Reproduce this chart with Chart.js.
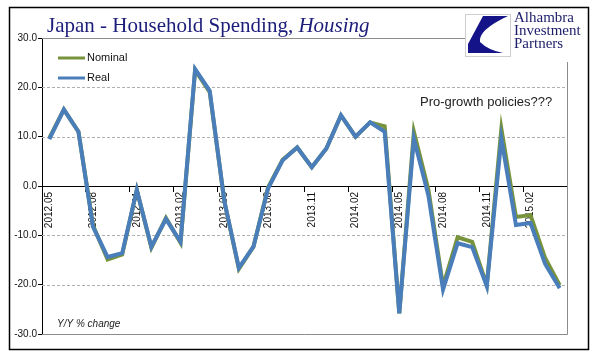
<!DOCTYPE html>
<html>
<head>
<meta charset="utf-8">
<script src="https://cdn.jsdelivr.net/npm/chart.js@4"></script>
<style>
  html, body { margin: 0; padding: 0; background: #fff; }
  canvas { display: block; }
</style>
</head>
<body>
<canvas id="spendChart" width="596" height="361"></canvas>
<script>
// months 2012.05 .. 2015.04
const months = [
  '2012.05', '2012.06', '2012.07', '2012.08', '2012.09', '2012.10', '2012.11', '2012.12',
  '2013.01', '2013.02', '2013.03', '2013.04', '2013.05', '2013.06', '2013.07', '2013.08',
  '2013.09', '2013.10', '2013.11', '2013.12', '2014.01', '2014.02', '2014.03', '2014.04',
  '2014.05', '2014.06', '2014.07', '2014.08', '2014.09', '2014.10', '2014.11', '2014.12',
  '2015.01', '2015.02', '2015.03', '2015.04'
];
const nominal = [
  9.7, 15.5, 11.0, -8.0, -14.9, -13.9, -0.8, -12.5, -6.5, -11.5, 23.5, 19.0,
  -3.0, -16.8, -12.3, -0.3, 5.3, 7.8, 3.8, 7.6, 14.3, 10.0, 12.9, 12.1,
  -25.8, 11.0, -0.8, -20.3, -10.4, -11.3, -20.1, 11.6, -6.3, -5.9, -14.6, -20.1
];
const real = [
  9.5, 15.5, 11.0, -8.3, -14.4, -13.6, -0.8, -12.3, -6.7, -11.3, 23.7, 19.3,
  -3.0, -16.6, -12.3, -0.5, 5.2, 7.8, 3.8, 7.6, 14.3, 10.0, 12.9, 11.0,
  -25.8, 9.6, -2.0, -21.0, -11.6, -12.4, -20.3, 9.6, -7.9, -7.5, -15.8, -20.7
];
const yTicks = [-30, -20, -10, 0, 10, 20, 30];

const GREEN = '#77933c';
const BLUE = '#4a7ebb';

// frame, title, logo, gridlines, legend and notes
const decor = {
  id: 'decor',
  beforeDatasetsDraw(chart) {
    const ctx = chart.ctx;
    const a = chart.chartArea;
    const y = chart.scales.y;
    ctx.save();
    // dashed gridlines
    ctx.strokeStyle = '#b0b0b0';
    ctx.lineWidth = 1;
    ctx.setLineDash([3, 2]);
    yTicks.forEach(v => {
      if (v === 0 || v === 30 || v === -30) return;
      const py = Math.round(y.getPixelForValue(v)) + 0.5;
      ctx.beginPath(); ctx.moveTo(a.left, py); ctx.lineTo(a.right, py); ctx.stroke();
    });
    ctx.setLineDash([]);
    // plot border (top stops at logo, right starts below it)
    ctx.strokeStyle = '#8c8c8c';
    const t = Math.round(a.top) + 0.5, b = Math.round(a.bottom) + 0.5, r = Math.round(a.right) + 0.5;
    ctx.beginPath();
    ctx.moveTo(a.left, t); ctx.lineTo(465, t);
    ctx.moveTo(r, 62); ctx.lineTo(r, b);
    ctx.lineTo(a.left, b);
    ctx.stroke();
    ctx.restore();
  },
  afterDraw(chart) {
    const ctx = chart.ctx;
    ctx.save();
    // outer frame
    ctx.strokeStyle = '#000';
    ctx.lineWidth = 1.5;
    ctx.strokeRect(9.5, 7.5, 579, 342);

    // title
    ctx.fillStyle = '#1c1c7a';
    ctx.textBaseline = 'alphabetic';
    ctx.font = '21px "Liberation Serif", serif';
    const part1 = 'Japan - Household Spending, ';
    ctx.fillText(part1, 47, 32);
    const w1 = ctx.measureText(part1).width;
    ctx.font = 'italic 21px "Liberation Serif", serif';
    ctx.fillText('Housing', 47 + w1, 32);

    // logo
    ctx.fillStyle = '#fff';
    ctx.fillRect(465, 14, 45, 42);
    ctx.strokeStyle = '#cfcfcf';
    ctx.lineWidth = 1;
    ctx.strokeRect(465.5, 14.5, 45, 42);
    ctx.fillStyle = '#141488';
    ctx.beginPath();
    ctx.moveTo(483, 16);
    ctx.lineTo(508, 16);
    ctx.quadraticCurveTo(478, 30, 480, 42);
    ctx.quadraticCurveTo(488, 50, 503, 53);
    ctx.lineTo(468, 53);
    ctx.lineTo(468, 44);
    ctx.closePath();
    ctx.fill();
    ctx.fillStyle = '#1c1c6a';
    ctx.font = '15px "Liberation Serif", serif';
    ctx.fillText('Alhambra', 514, 22);
    ctx.fillText('Investment', 514, 35);
    ctx.fillText('Partners', 514, 48);

    // legend
    ctx.lineWidth = 3;
    ctx.strokeStyle = GREEN;
    ctx.beginPath(); ctx.moveTo(58, 58); ctx.lineTo(85, 58); ctx.stroke();
    ctx.strokeStyle = BLUE;
    ctx.beginPath(); ctx.moveTo(58, 78); ctx.lineTo(85, 78); ctx.stroke();
    ctx.fillStyle = '#111';
    ctx.font = '11px "Liberation Sans", Arial, sans-serif';
    ctx.textBaseline = 'middle';
    ctx.fillText('Nominal', 87, 58);
    ctx.fillText('Real', 87, 78);

    // notes
    ctx.font = '13px "Liberation Sans", Arial, sans-serif';
    ctx.fillStyle = '#222';
    ctx.fillText('Pro-growth policies???', 420, 102);
    ctx.font = 'italic 10px "Liberation Sans", Arial, sans-serif';
    ctx.fillText('Y/Y % change', 57, 324);
    ctx.restore();
  }
};

new Chart(document.getElementById('spendChart'), {
  type: 'line',
  data: {
    labels: months,
    datasets: [{
      label: 'Nominal',
      data: nominal,
      borderColor: GREEN,
      borderWidth: 4,
      pointRadius: 0,
      tension: 0,
      order: 1
    }, {
      label: 'Real',
      data: real,
      borderColor: BLUE,
      borderWidth: 4,
      pointRadius: 0,
      tension: 0,
      order: 0
    }]
  },
  options: {
    responsive: false,
    animation: false,
    layout: { padding: { left: 0, top: 38, right: 29, bottom: 27 } },
    plugins: { legend: { display: false }, tooltip: { enabled: false } },
    scales: {
      x: {
        type: 'category',
        position: { y: 0 },
        offset: true,
        grid: {
          offset: true,
          drawOnChartArea: false,
          tickLength: 5,
          tickColor: ctx => (ctx.index % 3 === 0 ? '#000' : 'rgba(0,0,0,0)')
        },
        border: { color: '#000', width: 1 },
        ticks: {
          autoSkip: false,
          minRotation: 90,
          maxRotation: 90,
          padding: 1,
          color: '#111',
          font: { family: '"Liberation Sans", Arial, sans-serif', size: 10 },
          callback: (v, i) => (i % 3 === 0 ? months[i] : '')
        }
      },
      y: {
        min: -30,
        max: 30,
        afterFit: s => { s.width = 42; },
        afterBuildTicks: s => { s.ticks = yTicks.map(v => ({ value: v })); },
        grid: { drawOnChartArea: false, tickLength: 4, color: '#000' },
        border: { color: '#000', width: 1 },
        ticks: {
          padding: 1,
          color: '#111',
          font: { family: '"Liberation Sans", Arial, sans-serif', size: 10 },
          callback: v => v.toFixed(1)
        }
      }
    }
  },
  plugins: [decor]
});
</script>
</body>
</html>
